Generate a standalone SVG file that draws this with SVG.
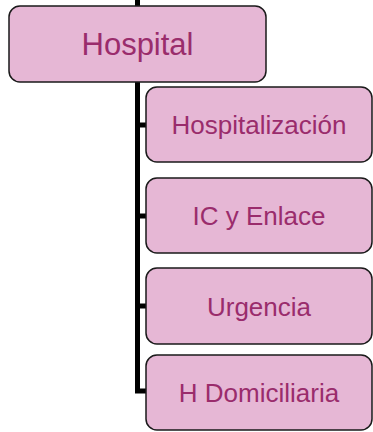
<svg xmlns="http://www.w3.org/2000/svg" width="373" height="432" viewBox="0 0 373 432">
<style>
.box{fill:#E6B7D5;stroke:#1a1a1a;stroke-width:1.5}
.lbl{font-family:"Liberation Sans",Arial,sans-serif;fill:#9A2C6C;text-anchor:middle}
.conn{fill:none;stroke:#000;stroke-width:5;stroke-linejoin:miter;stroke-linecap:butt}
</style>
<g id="connectors">
<path class="conn" d="M137.5,0 V7"/>
<path class="conn" d="M137.5,81 V125 H147"/>
<path class="conn" d="M137.5,81 V216 H147"/>
<path class="conn" d="M137.5,81 V306 H147"/>
<path class="conn" d="M137.5,81 V391 H147"/>
</g>
<g id="hospital">
<rect class="box" x="9" y="6" width="257" height="76" rx="11"/>
<text class="lbl" x="137.5" y="55" font-size="31">Hospital</text>
</g>
<g id="hospitalizacion">
<rect class="box" x="146" y="87" width="226" height="75" rx="11"/>
<text class="lbl" x="259" y="134" font-size="26">Hospitalización</text>
</g>
<g id="ic-enlace">
<rect class="box" x="146" y="178" width="226" height="75" rx="11"/>
<text class="lbl" x="259" y="225" font-size="26">IC y Enlace</text>
</g>
<g id="urgencia">
<rect class="box" x="146" y="268" width="226" height="76" rx="11"/>
<text class="lbl" x="259" y="316" font-size="26">Urgencia</text>
</g>
<g id="h-domiciliaria">
<rect class="box" x="146" y="355" width="226" height="75" rx="11"/>
<text class="lbl" x="259" y="402" font-size="26">H Domiciliaria</text>
</g>
</svg>
